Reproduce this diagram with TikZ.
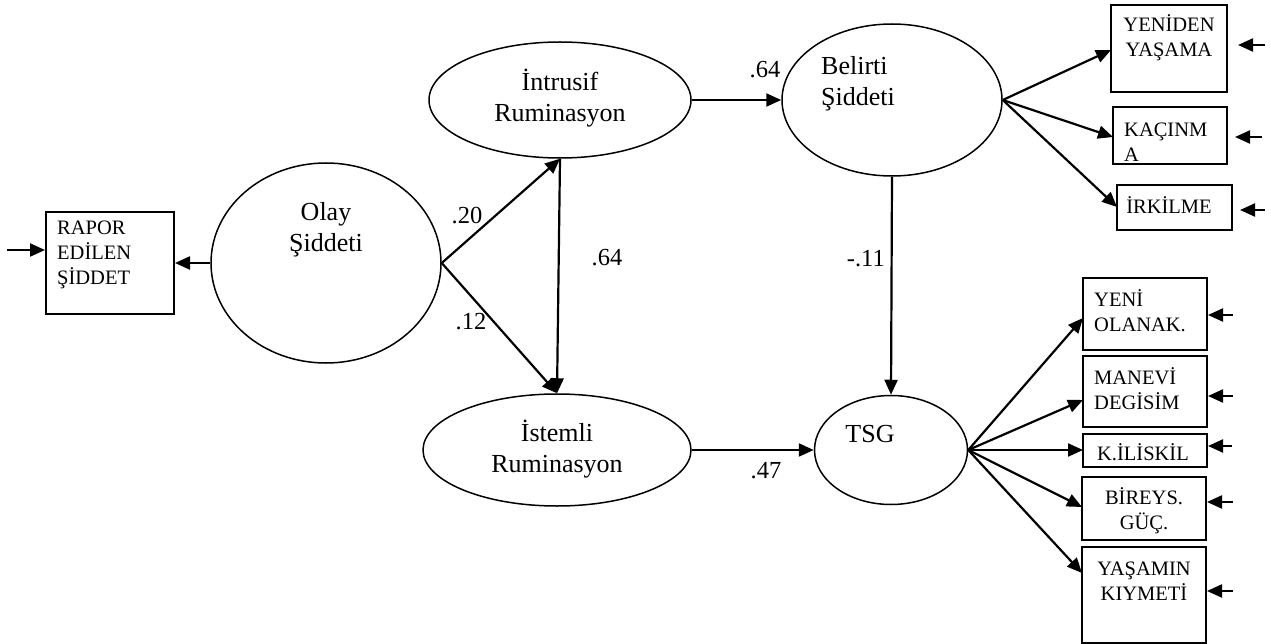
\documentclass[tikz,border=0pt]{standalone}
\usepackage{fontspec}
\setmainfont{Liberation Serif}
\usetikzlibrary{shapes.geometric,arrows.meta}
\tikzset{
  lat/.style={ellipse,draw,line width=1.5pt,inner sep=0pt},
  obs/.style={rectangle,draw,line width=2pt,inner sep=0pt},
  etxt/.style={font=\fontsize{26}{31}\selectfont,inner sep=0pt},
  btxt/.style={font=\fontsize{20.5}{25}\selectfont,inner sep=0pt},
  num/.style={font=\fontsize{24.5}{28}\selectfont,inner sep=0pt},
  arr/.style={line width=2.2pt,-{Triangle[length=15pt,width=13pt]}},
}
\begin{document}
\begin{tikzpicture}[x=1pt,y=-1pt]
\useasboundingbox (0,0) rectangle (1271,644);
% latent ellipses
\node[lat,minimum width=230pt,minimum height=200pt] (olay) at (326,263) {};
\node[lat,minimum width=262pt,minimum height=116pt] (intr) at (560,100) {};
\node[lat,minimum width=220pt,minimum height=152pt] (bel) at (892,100) {};
\node[lat,minimum width=268pt,minimum height=112pt] (ist) at (557,450) {};
\node[lat,minimum width=153pt,minimum height=109pt] (tsg) at (891,450) {};
% ellipse texts
\node[etxt,align=center] (olayT) at (326,230) {Olay\\Şiddeti};
\node[etxt,align=center] (intrT) at (560,98) {İntrusif\\Ruminasyon};
\node[etxt,align=left,anchor=west] (belT) at (821,84) {Belirti\\Şiddeti};
\node[etxt,align=center] (istT) at (557,449) {İstemli\\Ruminasyon};
\node[etxt] (tsgT) at (870,434) {TSG};
% observed boxes
\node[obs,minimum width=128pt,minimum height=102pt] (rapor) at (110,263) {};
\node[obs,minimum width=116pt,minimum height=87pt] (yeniden) at (1169,48.5) {};
\node[obs,minimum width=114pt,minimum height=57pt] (kac) at (1170,135.5) {};
\node[obs,minimum width=115pt,minimum height=45pt] (irk) at (1174.5,207.5) {};
\node[obs,minimum width=124pt,minimum height=72pt] (yeni) at (1145,314) {};
\node[obs,minimum width=124pt,minimum height=71pt] (man) at (1145,391.5) {};
\node[obs,minimum width=124pt,minimum height=33pt] (kil) at (1145,450.5) {};
\node[obs,minimum width=124pt,minimum height=63pt] (bir) at (1144,508.5) {};
\node[obs,minimum width=124pt,minimum height=96pt] (yas) at (1144,595) {};
% box texts
\node[btxt,align=left,anchor=west] (raporT) at (57,255) {RAPOR\\EDİLEN\\ŞİDDET};
\node[btxt,align=center] (yenidenT) at (1169,38) {YENİDEN\\YAŞAMA};
\node[btxt,align=left,anchor=west] (kacT) at (1124,142) {KAÇINM\\A};
\node[btxt] (irkT) at (1169,205) {İRKİLME};
\node[btxt,align=left,anchor=west] (yeniT) at (1094,311) {YENİ\\OLANAK.};
\node[btxt,align=left,anchor=west] (manT) at (1094,389) {MANEVİ\\DEGİSİM};
\node[btxt] (kilT) at (1143,452) {K.İLİSKİL};
\node[btxt,align=center] (birT) at (1144,511) {BİREYS.\\GÜÇ.};
\node[btxt,align=center] (yasT) at (1144,581) {YAŞAMIN\\KIYMETİ};
% coefficients
\node[num] (c20) at (467,216) {.20};
\node[num] (c12) at (471,322) {.12};
\node[num] (c64a) at (607,258) {.64};
\node[num] (c64b) at (765,70) {.64};
\node[num,anchor=east] (c11) at (885,259) {-.11};
\node[num] (c47) at (766,471) {.47};
% structural paths
\draw[arr] (olay.west) -- (rapor.east);
\draw[arr] (olay.east) -- (intr.south);
\draw[arr] (olay.east) -- (ist.north);
\draw[arr] (intr.south) -- (ist.north);
\draw[arr] (intr.east) -- (bel.west);
\draw[arr] (bel.south) -- (tsg.north);
\draw[arr] (ist.east) -- (tsg.west);
% indicators of Belirti
\coordinate (tYen) at (1111,50);
\coordinate (tKac) at (1113,137);
\coordinate (tIrk) at (1117,207);
\draw[arr] (bel.east) -- (tYen);
\draw[arr] (bel.east) -- (tKac);
\draw[arr] (bel.east) -- (tIrk);
% indicators of TSG
\coordinate (tYeni) at (1083,318);
\coordinate (tMan) at (1083,400);
\coordinate (tKil) at (1083,450);
\coordinate (tBir) at (1082,507);
\coordinate (tYas) at (1082,573);
\draw[arr] (tsg.east) -- (tYeni);
\draw[arr] (tsg.east) -- (tMan);
\draw[arr] (tsg.east) -- (tKil);
\draw[arr] (tsg.east) -- (tBir);
\draw[arr] (tsg.east) -- (tYas);
% error arrows
\coordinate (eRap) at (7,250);
\draw[arr] (eRap) -- (eRap -| rapor.west);
\coordinate (eYen) at (1265,45);
\coordinate (eKac) at (1262,137);
\coordinate (eIrk) at (1265,210);
\draw[arr] (eYen) -- ++(-27,0);
\draw[arr] (eKac) -- ++(-27,0);
\draw[arr] (eIrk) -- ++(-25,0);
\coordinate (eYeni) at (1233,315);
\coordinate (eMan) at (1233,396);
\coordinate (eKil) at (1232,446);
\coordinate (eBir) at (1233,502);
\coordinate (eYas) at (1233,591);
\draw[arr] (eYeni) -- (eYeni -| yeni.east);
\draw[arr] (eMan) -- (eMan -| man.east);
\draw[arr] (eKil) -- (eKil -| kil.east);
\draw[arr] (eBir) -- (eBir -| bir.east);
\draw[arr] (eYas) -- (eYas -| yas.east);
\end{tikzpicture}
\end{document}
